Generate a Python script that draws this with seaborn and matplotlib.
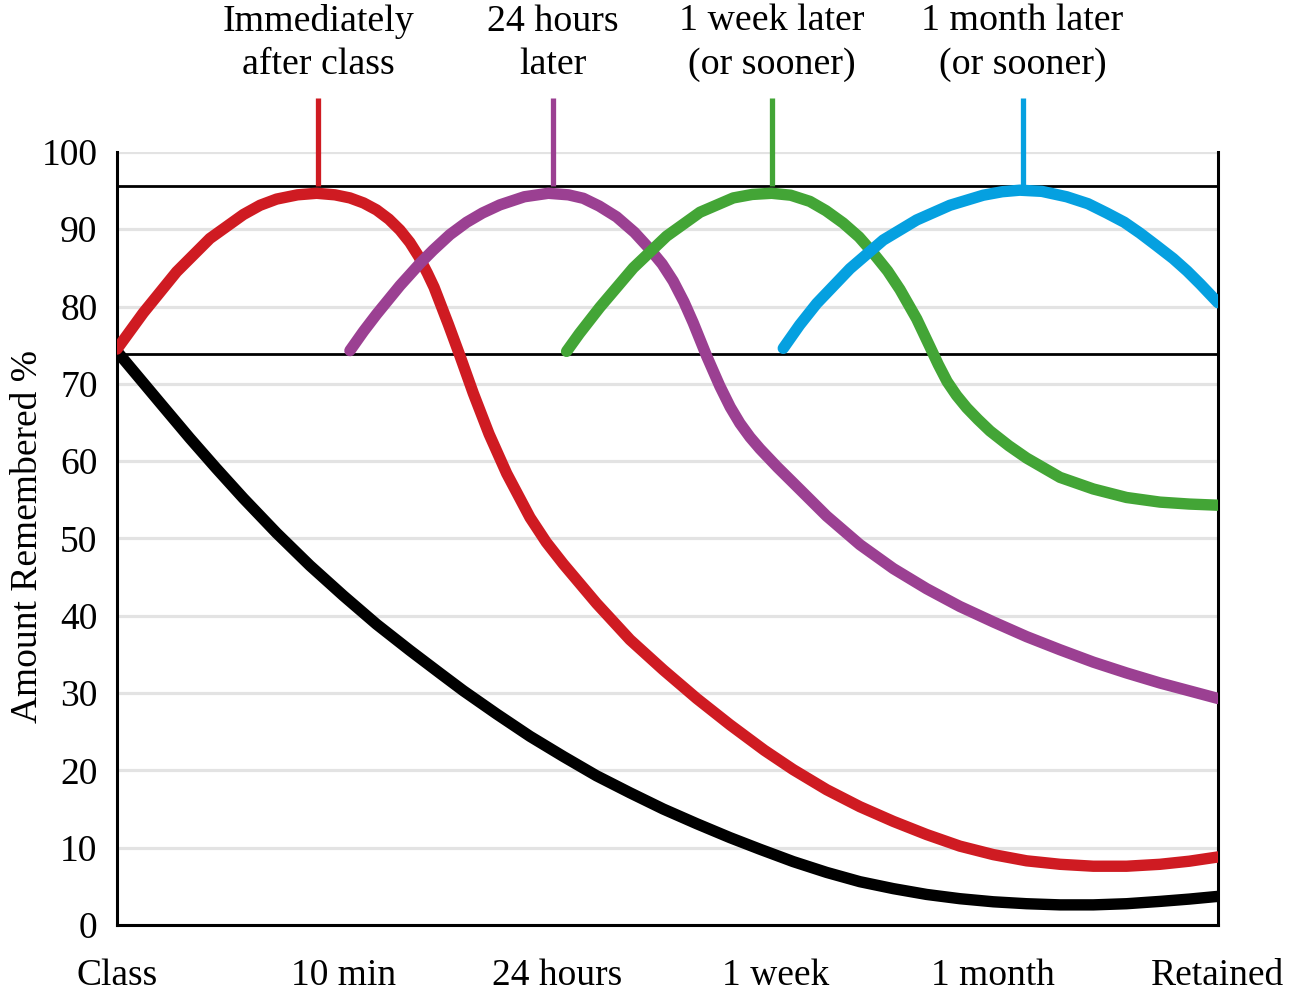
import pandas as pd
import matplotlib
matplotlib.use("Agg")
import matplotlib.pyplot as plt
import seaborn as sns

# x positions: 0 = Class ... 5 = Retained
tick_pos = [0, 1.03, 2, 2.99, 3.98, 5]
tick_labels = ["Class", "10 min", "24 hours", "1 week", "1 month", "Retained"]

# curves (x, % remembered)
black_x = [0.0, 0.1, 0.2, 0.33, 0.45, 0.574, 0.725, 0.876, 1.028, 1.179, 1.331, 1.47, 1.573, 1.724, 1.876,
           2.027, 2.178, 2.33, 2.481, 2.633, 2.784, 2.92, 3.071, 3.223, 3.374, 3.526, 3.677, 3.828, 3.98,
           4.131, 4.283, 4.434, 4.585, 4.737, 4.87, 5.0]
black_y = [74.2, 70.8, 67.4, 63.0, 59.1, 55.2, 50.7, 46.5, 42.6, 38.9, 35.5, 32.5, 30.3, 27.3, 24.4,
           21.8, 19.3, 17.1, 15.0, 13.1, 11.3, 9.8, 8.2, 6.8, 5.6, 4.7, 3.95, 3.4, 3.0,
           2.75, 2.6, 2.6, 2.75, 3.05, 3.35, 3.7]

red_x = [0.0, 0.12, 0.271, 0.422, 0.574, 0.65, 0.725, 0.82, 0.907, 0.99, 1.058, 1.12, 1.179, 1.235, 1.285,
         1.33, 1.37, 1.41, 1.44, 1.505, 1.558, 1.618, 1.69, 1.77, 1.876, 1.95, 2.027, 2.178, 2.33, 2.481,
         2.633, 2.784, 2.94, 3.071, 3.223, 3.374, 3.526, 3.677, 3.828, 3.98, 4.131, 4.283, 4.434, 4.585,
         4.737, 4.87, 5.0]
red_y = [74.5, 79.2, 84.5, 88.8, 91.9, 93.1, 93.9, 94.45, 94.65, 94.45, 94.05, 93.4, 92.5, 91.3, 89.9,
         88.3, 86.5, 84.3, 82.5, 77.7, 73.6, 68.8, 63.5, 58.4, 52.7, 49.5, 46.7, 41.6, 36.9, 33.0,
         29.3, 25.9, 22.6, 20.1, 17.5, 15.3, 13.4, 11.7, 10.2, 9.1, 8.3, 7.85, 7.6, 7.6,
         7.85, 8.25, 8.8]

purple_x = [1.058, 1.12, 1.179, 1.285, 1.38, 1.436, 1.512, 1.588, 1.66, 1.739, 1.85, 1.959, 2.05, 2.118,
            2.19, 2.269, 2.35, 2.421, 2.476, 2.526, 2.575, 2.617, 2.678, 2.738, 2.785, 2.829, 2.875, 2.92,
            3.0, 3.071, 3.223, 3.374, 3.526, 3.677, 3.828, 3.98, 4.131, 4.283, 4.434, 4.585, 4.737, 5.0]
purple_y = [74.3, 76.8, 79.0, 82.7, 85.7, 87.3, 89.3, 90.9, 92.1, 93.15, 94.2, 94.65, 94.45, 94.0,
            93.0, 91.6, 89.6, 87.4, 85.5, 83.3, 80.6, 77.9, 73.6, 69.7, 67.0, 64.9, 63.1, 61.6,
            59.2, 57.2, 52.9, 49.2, 46.1, 43.5, 41.2, 39.2, 37.3, 35.6, 34.0, 32.6, 31.3, 29.3]

green_x = [2.042, 2.1, 2.193, 2.345, 2.496, 2.648, 2.799, 2.885, 2.973, 3.06, 3.147, 3.22, 3.298, 3.37,
           3.435, 3.5, 3.556, 3.632, 3.692, 3.73, 3.77, 3.813, 3.859, 3.91, 3.965, 4.05, 4.131, 4.283,
           4.434, 4.585, 4.737, 4.87, 5.0]
green_y = [74.2, 76.5, 79.9, 85.0, 89.1, 92.2, 94.05, 94.5, 94.65, 94.4, 93.6, 92.4, 90.8, 89.0,
           86.9, 84.6, 82.2, 78.4, 74.8, 72.5, 70.3, 68.5, 66.9, 65.4, 63.9, 62.0, 60.4, 57.9,
           56.4, 55.3, 54.7, 54.45, 54.3]

blue_x = [3.026, 3.1, 3.178, 3.329, 3.48, 3.632, 3.783, 3.934, 4.02, 4.10, 4.2, 4.313, 4.41, 4.495, 4.575,
          4.646, 4.72, 4.797, 4.86, 4.92, 5.0]
blue_y = [74.6, 77.6, 80.4, 84.9, 88.6, 91.2, 93.1, 94.4, 94.85, 95.05, 94.9, 94.2, 93.3, 92.1, 90.9,
          89.5, 87.9, 86.2, 84.6, 82.9, 80.5]

review_x = [0.914, 1.978, 2.973, 4.113]
review_labels = ["Immediately\nafter class", "24 hours\nlater", "1 week later\n(or sooner)", "1 month later\n(or sooner)"]
band = [73.9, 95.6]

sns.set_theme(style="white")
plt.rcParams["font.family"] = ["Liberation Serif", "DejaVu Serif"]
plt.rcParams.update({"text.color": "black", "axes.labelcolor": "black",
                     "xtick.color": "black", "ytick.color": "black"})

fig = plt.figure(figsize=(12.91, 9.93), dpi=100)
ax = fig.add_axes([0.0906, 0.0685, 0.8528, 0.7785])

ax.hlines(band, 0, 5, color="black", lw=2.0, zorder=2)

curves = [
    (black_x, black_y, "black"),
    (red_x, red_y, "#cf1b22"),
    (purple_x, purple_y, "#9b4092"),
    (green_x, green_y, "#43a536"),
    (blue_x, blue_y, "#05a0e0"),
]
for xs, ys, col in curves:
    df = pd.DataFrame({"x": xs, "y": ys})
    sns.lineplot(data=df, x="x", y="y", color=col, lw=8.2, sort=False, estimator=None, ax=ax,
                 solid_capstyle="round", solid_joinstyle="round", zorder=3)

for (xs, ys, col), rx, lab in zip(curves[1:], review_x, review_labels):
    ax.vlines(rx, band[1], 107, color=col, lw=3.8, clip_on=False, zorder=3)
    ax.text(rx, 114.1, lab, ha="center", va="center", fontsize=27.3, linespacing=1.33, clip_on=False)

ax.set_xlim(0, 5)
ax.set_ylim(0, 100)
ax.set_yticks(range(0, 101, 10))
ax.set_xticks(tick_pos, tick_labels)
ax.tick_params(axis="both", length=0, labelsize=27)
ax.tick_params(axis="x", pad=24)
ax.tick_params(axis="y", pad=14)
ax.grid(axis="y", color="#e3e3e3", lw=2.3)
ax.grid(axis="x", visible=False)
ax.set_axisbelow(True)
ax.set_xlabel("")
ax.set_ylabel("Amount Remembered %", fontsize=27)
ax.yaxis.set_label_coords(-0.081, 0.502)
ax.yaxis.label.set_va("center")

ax.spines["top"].set_visible(False)
for s in ["left", "right", "bottom"]:
    ax.spines[s].set_color("black")
    ax.spines[s].set_linewidth(2.2)

fig.savefig("out.png", dpi=100)
